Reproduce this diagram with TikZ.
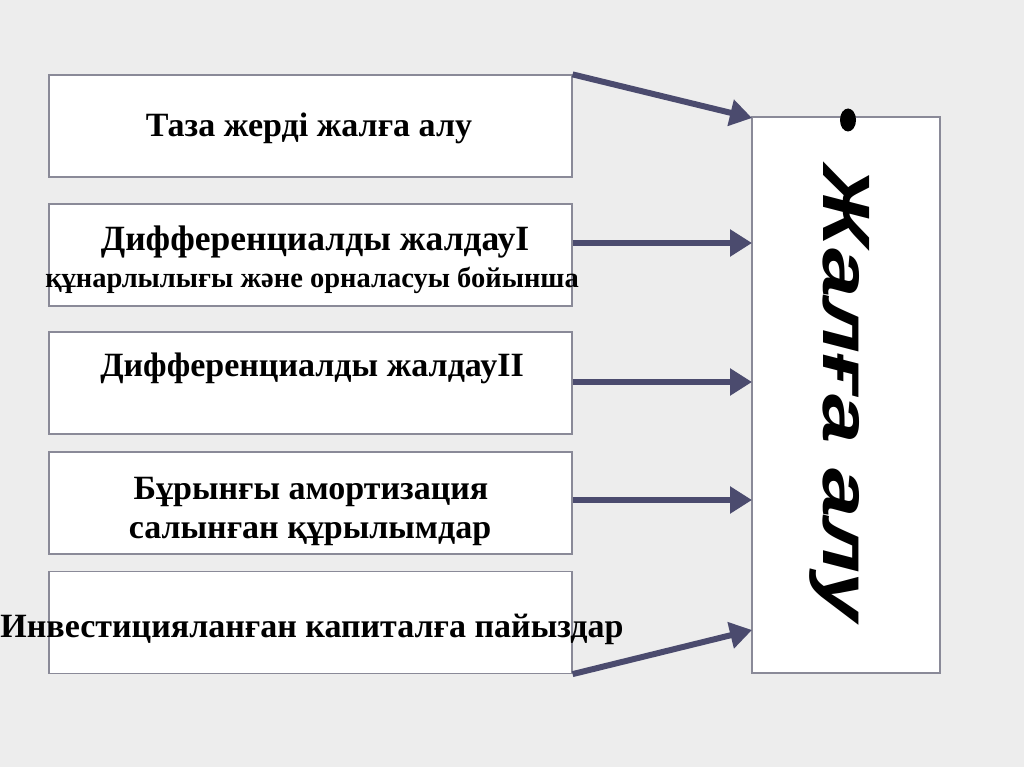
\documentclass[tikz,border=0pt]{standalone}
\usepackage{fontspec}
\setmainfont{Liberation Serif}
\newfontfamily\sansbi{Liberation Sans}
\usetikzlibrary{arrows.meta}
\definecolor{bg}{HTML}{EDEDED}
\definecolor{arr}{HTML}{4B4B6E}
\definecolor{bord}{HTML}{8A8A98}
\tikzset{
  x=1pt,y=-1pt,
  lbox/.style={draw=bord,line width=1.2pt,fill=white,minimum width=523pt,minimum height=102pt,inner sep=0pt},
  lbl/.style={font=\bfseries\fontsize{34}{40}\selectfont,anchor=base,inner sep=0pt},
  conn/.style={draw=arr,line width=6pt,-{Triangle[length=22pt,width=26pt]}},
}
\begin{document}
\begin{tikzpicture}
\fill[bg] (0,0) rectangle (1024,767);
\useasboundingbox (0,0) rectangle (1024,767);
\node[lbox] (b1) at (310.5,126) {};
\node[lbox] (b2) at (310.5,255) {};
\node[lbox] (b3) at (310.5,383) {};
\node[lbox] (b4) at (310.5,503) {};
\node[lbox] (b5) at (310.5,622.5) {};
\node[draw=bord,line width=1.2pt,fill=white,minimum width=188pt,minimum height=556pt,inner sep=0pt] (r) at (846,395) {};
\node[lbl] (t1) at (309,137) {Таза жерді жалға алу};
\node[lbl,font=\bfseries\fontsize{35.5}{40}\selectfont] (t2) at (315,250) {Дифференциалды жалдауI};
\node[lbl,font=\bfseries\fontsize{28.5}{34}\selectfont] (t2b) at (312,287) {құнарлылығы және орналасуы бойынша};
\node[lbl] (t3) at (312,376) {Дифференциалды жалдауII};
\node[lbl] (t4) at (311,499) {Бұрынғы амортизация};
\node[lbl] (t4b) at (310,538) {салынған құрылымдар};
\node[lbl] (t5) at (312,637) {Инвестицияланған капиталға пайыздар};
\fill[black] (848,120) ellipse (8pt and 11.5pt);
\node[font=\sansbi\bfseries\itshape\fontsize{67}{72}\selectfont,rotate=-90,anchor=base west,inner sep=0pt] (rt) at (823,165) {\scalebox{1.32}[1]{Жалға алу}};
\coordinate (a1s) at (b1.north east);
\coordinate (a5s) at (b5.south east);
\coordinate (a1e) at (752,118);
\coordinate (a2e) at (752,243);
\coordinate (a3e) at (752,382);
\coordinate (a4e) at (752,500);
\coordinate (a5e) at (752,630);
\draw[conn] (a1s) -- (a1e);
\draw[conn] (b2.east |- a2e) -- (a2e);
\draw[conn] (b3.east |- a3e) -- (a3e);
\draw[conn] (b4.east |- a4e) -- (a4e);
\draw[conn] (a5s) -- (a5e);
\end{tikzpicture}
\end{document}
